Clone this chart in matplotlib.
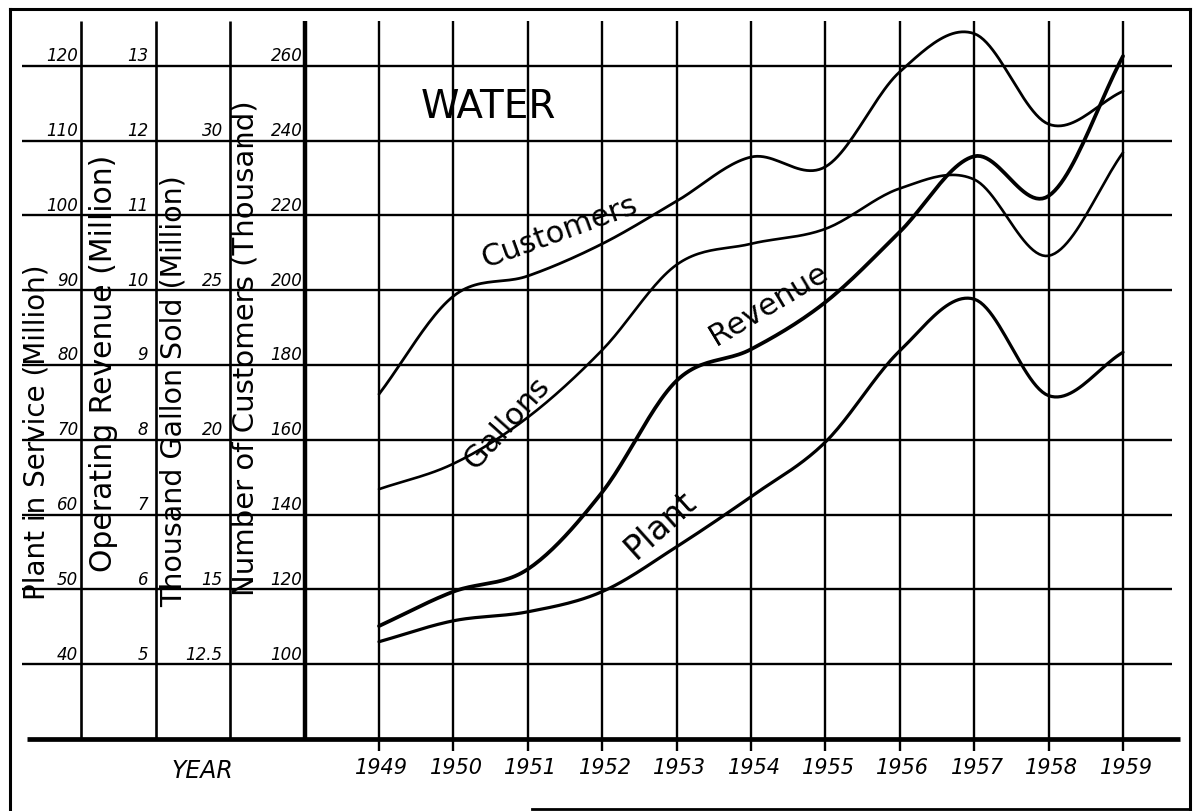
import numpy as np
import matplotlib
matplotlib.use("Agg")
import matplotlib.pyplot as plt

# values, one per year
years = [1949, 1950, 1951, 1952, 1953, 1954, 1955, 1956, 1957, 1958, 1959]
plant = [43.0, 45.8, 47.0, 49.7, 55.7, 62.4, 69.7, 81.9, 88.8, 75.9, 81.7]          # million $
revenue = [5.51, 5.97, 6.27, 7.30, 8.79, 9.21, 9.84, 10.78, 11.79, 11.26, 13.13]    # million $
gallons = [18.35, 19.2, 20.75, 23.0, 25.85, 26.55, 27.05, 28.4, 28.7, 26.15, 29.6]  # thousand gal (million)
customers = [172.2, 198.4, 203.8, 212.4, 223.8, 235.6, 233.0, 258.4, 268.6, 244.4, 253.2]  # thousand

# scale columns on the left
plant_ticks = ["40", "50", "60", "70", "80", "90", "100", "110", "120"]
revenue_ticks = ["5", "6", "7", "8", "9", "10", "11", "12", "13"]
gallon_ticks = ["12.5", "15", "", "20", "", "25", "", "30", ""]
customer_ticks = ["100", "120", "140", "160", "180", "200", "220", "240", "260"]

# each scale: value at grid row 0 and value per row
scales = {"plant": (30, 10), "revenue": (4, 1), "gallons": (10, 2.5), "customers": (80, 20)}


def rows(vals, key):
    base, step = scales[key]
    return (np.asarray(vals, float) - base) / step


def smooth(x, y, n=24):
    # catmull-rom through the yearly points, like a hand drawn curve
    x = np.asarray(x, float)
    y = np.asarray(y, float)
    px = np.concatenate([[2 * x[0] - x[1]], x, [2 * x[-1] - x[-2]]])
    py = np.concatenate([[2 * y[0] - y[1]], y, [2 * y[-1] - y[-2]]])
    t = np.linspace(0, 1, n, endpoint=False)
    xs, ys = [], []
    for i in range(1, len(px) - 2):
        for p, out in ((px, xs), (py, ys)):
            p0, p1, p2, p3 = p[i - 1], p[i], p[i + 1], p[i + 2]
            out.append(0.5 * (2 * p1 + (-p0 + p2) * t + (2 * p0 - 5 * p1 + 4 * p2 - p3) * t ** 2
                              + (-p0 + 3 * p1 - 3 * p2 + p3) * t ** 3))
    xs.append([x[-1]])
    ys.append([y[-1]])
    return np.concatenate(xs), np.concatenate(ys)


fig = plt.figure(figsize=(11.94, 8.12), dpi=100)
ax = fig.add_axes([0, 0, 1, 1])
ax.set_xlim(1943.906, 1959.954)
ax.set_ylim(-0.963, 9.893)
ax.axis("off")

k = "black"
cols = [1945, 1946, 1947, 1948]
levels = np.arange(0, 10)

# frame
ax.plot([1944.04, 1944.04], [-0.94, 9.76], color=k, lw=2.2)
ax.plot([1944.04, 1959.9], [9.76, 9.76], color=k, lw=2.2)
ax.plot([1959.9, 1959.9], [9.76, -0.94], color=k, lw=2.2)
ax.plot([1951.05, 1959.9], [-0.94, -0.94], color=k, lw=2.0)

# grid
ax.hlines(levels[1:], 1944.2, 1959.66, color=k, lw=1.7)
ax.hlines([0], 1944.27, 1959.77, color=k, lw=3.4)
ax.vlines(cols[:3], 0, 9.6, color=k, lw=1.9)
ax.vlines([cols[3]], 0, 9.6, color=k, lw=3.2)
ax.vlines(years, -0.16, 9.6, color=k, lw=1.7)

# scale numbers
lab = dict(ha="right", va="bottom", fontsize=12, style="italic", color=k)
for i, lv in enumerate(levels[1:]):
    ax.text(cols[0] - 0.04, lv + 0.02, plant_ticks[i], **lab)
    ax.text(cols[1] - 0.1, lv + 0.02, revenue_ticks[i], **lab)
    ax.text(cols[2] - 0.1, lv + 0.02, gallon_ticks[i], **lab)
    ax.text(cols[3] - 0.03, lv + 0.02, customer_ticks[i], **lab)

# column titles
tt = dict(rotation=90, ha="center", va="center", color=k)
ax.text(1944.40, 4.11, "Plant in Service (Million)", fontsize=20, **tt)
ax.text(1945.30, 5.04, "Operating Revenue (Million)", fontsize=21.5, **tt)
ax.text(1946.24, 4.66, "Thousand Gallon Sold (Million)", fontsize=20.5, **tt)
ax.text(1947.20, 5.24, "Number of Customers (Thousand)", fontsize=21, **tt)

# year labels
for yr in years:
    ax.text(yr + 0.04, -0.37, str(yr), ha="center", va="center", fontsize=15, style="italic", color=k)
ax.text(1946.62, -0.42, "YEAR", ha="center", va="center", fontsize=17, style="italic", color=k)
ax.text(1950.47, 8.46, "WATER", ha="center", va="center", fontsize=28, color=k)

# curves
series = [(customers, "customers", 2.0), (gallons, "gallons", 1.9),
          (revenue, "revenue", 2.7), (plant, "plant", 2.3)]
for vals, key, w in series:
    sx, sy = smooth(years, rows(vals, key))
    ax.plot(sx, sy, color=k, lw=w, solid_capstyle="round")

ax.text(1951.43, 6.79, "Customers", rotation=20, ha="center", va="center", fontsize=22, color=k)
ax.text(1950.72, 4.24, "Gallons", rotation=48, ha="center", va="center", fontsize=22, color=k)
ax.text(1954.23, 5.82, "Revenue", rotation=31, ha="center", va="center", fontsize=22, color=k)
ax.text(1952.78, 2.87, "Plant", rotation=42, ha="center", va="center", fontsize=24, color=k)

fig.savefig("out.png", dpi=100, facecolor="white")
